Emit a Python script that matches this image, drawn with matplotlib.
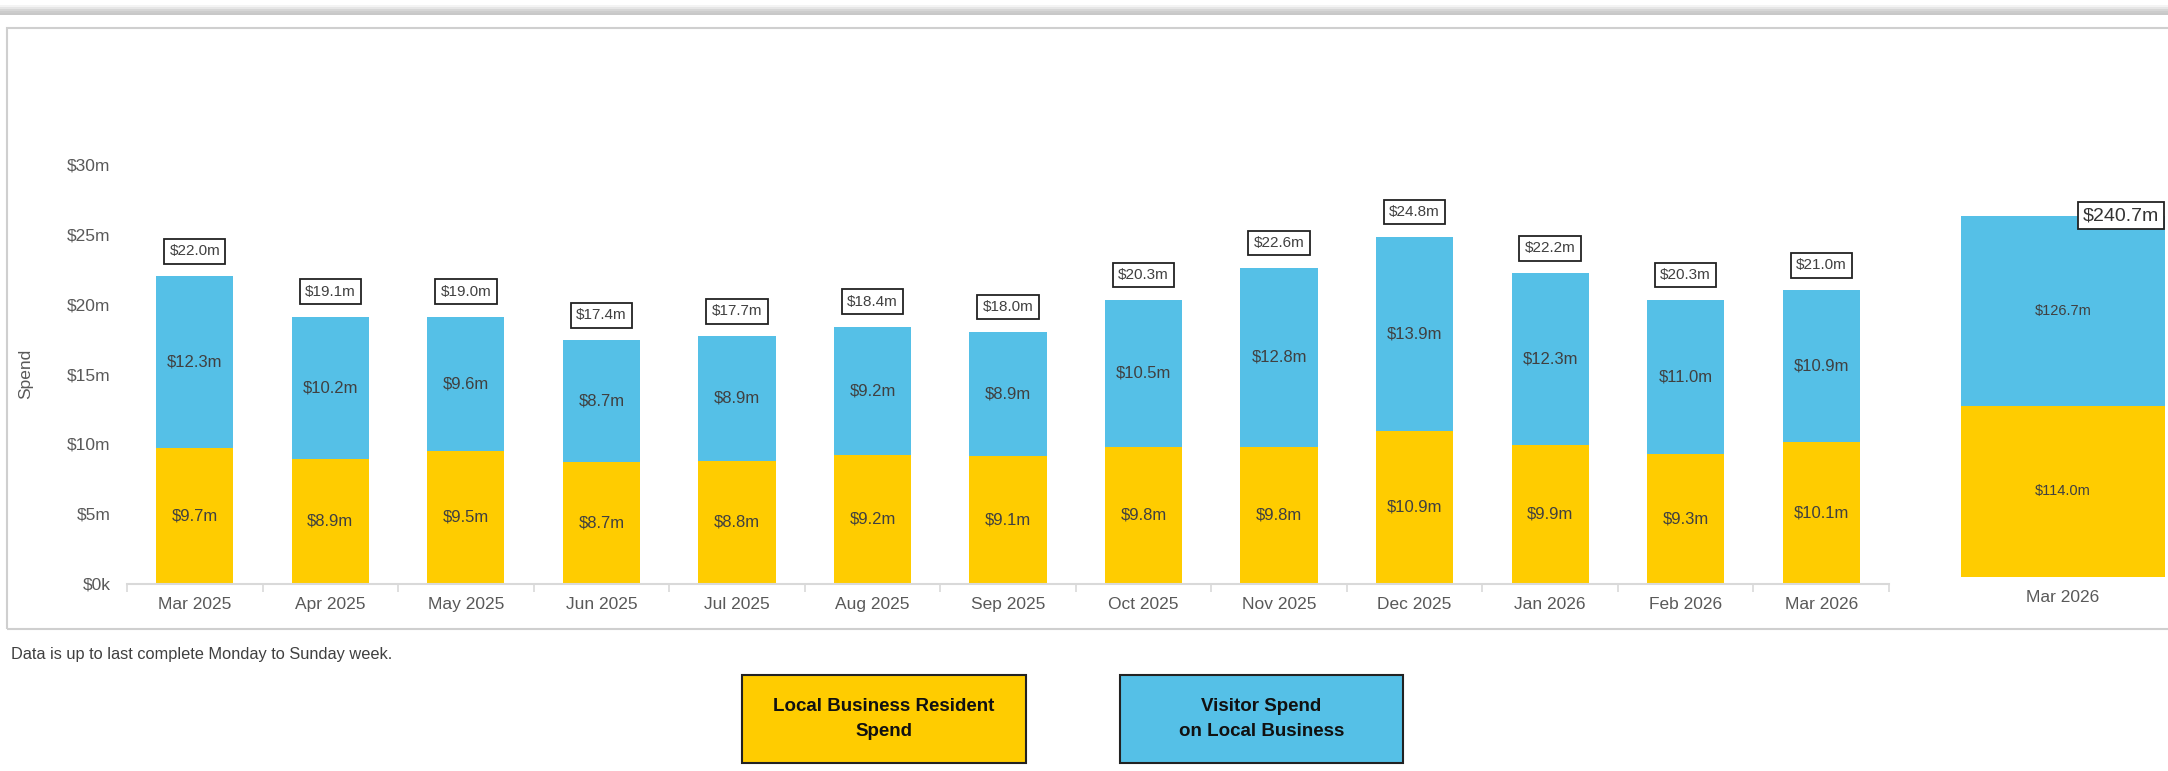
import matplotlib.pyplot as plt
import numpy as np
from matplotlib.patches import Rectangle

months = ["Mar 2025", "Apr 2025", "May 2025", "Jun 2025", "Jul 2025", "Aug 2025",
          "Sep 2025", "Oct 2025", "Nov 2025", "Dec 2025", "Jan 2026", "Feb 2026",
          "Mar 2026"]
resident = [9.7, 8.9, 9.5, 8.7, 8.8, 9.2, 9.1, 9.8, 9.8, 10.9, 9.9, 9.3, 10.1]
visitor = [12.3, 10.2, 9.6, 8.7, 8.9, 9.2, 8.9, 10.5, 12.8, 13.9, 12.3, 11.0, 10.9]
totals = [22.0, 19.1, 19.0, 17.4, 17.7, 18.4, 18.0, 20.3, 22.6, 24.8, 22.2, 20.3, 21.0]

ytd_label = "Mar 2026"
ytd_resident = 114.0
ytd_visitor = 126.7
ytd_total = 240.7

yticks = [0, 5, 10, 15, 20, 25, 30]
ytick_labels = ["$0k", "$5m", "$10m", "$15m", "$20m", "$25m", "$30m"]

YELLOW = "#FFCC00"
BLUE = "#55C0E7"
GREY_TXT = "#595959"
SEG_TXT = "#404040"

plt.rcParams["font.family"] = ["Liberation Sans", "DejaVu Sans"]

W, H = 2168, 771
fig = plt.figure(figsize=(W / 100, H / 100), dpi=100)

# top shadow band and frame
for i, c in enumerate(["#f4f4f4", "#e6e6e6", "#d6d6d6", "#cccccc", "#c8c8c8"]):
    fig.add_artist(Rectangle((0, 1 - (5 + 2 * i + 2) / H), 1, 2 / H,
                             transform=fig.transFigure, color=c, lw=0))
fig.add_artist(Rectangle((7 / W, 1 - 629 / H), 1.2, (629 - 28) / H,
                         transform=fig.transFigure, fill=False,
                         edgecolor="#cfcfcf", lw=1.5))

# main monthly chart
ax = fig.add_axes([127 / W, 1 - 583.5 / H, (1889 - 127) / W, (583.5 - 164.5) / H])
x = np.arange(len(months))
bw = 0.57
ax.bar(x, resident, bw, color=YELLOW, zorder=2)
ax.bar(x, visitor, bw, bottom=resident, color=BLUE, zorder=2)

for i in range(len(months)):
    ax.text(x[i], resident[i] / 2, f"${resident[i]:.1f}m", ha="center", va="center",
            fontsize=12, color=SEG_TXT)
    ax.text(x[i], resident[i] + visitor[i] / 2, f"${visitor[i]:.1f}m", ha="center",
            va="center", fontsize=12, color=SEG_TXT)
    ax.annotate(f"${totals[i]:.1f}m", xy=(x[i], resident[i] + visitor[i]),
                xytext=(0, 18), textcoords="offset points", ha="center", va="center",
                fontsize=11, color=SEG_TXT,
                bbox=dict(boxstyle="square,pad=0.35", fc="white", ec="#222222", lw=1.3))

ax.set_xlim(-0.5, len(months) - 0.5)
ax.set_ylim(0, 30)
ax.set_yticks(yticks)
ax.set_yticklabels(ytick_labels)
ax.set_xticks(x)
ax.set_xticklabels(months)
ax.set_xticks(np.arange(len(months) + 1) - 0.5, minor=True)
ax.tick_params(axis="x", which="major", length=0, pad=10, labelsize=12.5, labelcolor=GREY_TXT)
ax.tick_params(axis="x", which="minor", length=6, color="#d9d9d9", width=1.2)
ax.tick_params(axis="y", length=0, pad=12, labelsize=12.5, labelcolor=GREY_TXT)
for s in ["top", "right", "left"]:
    ax.spines[s].set_visible(False)
ax.spines["bottom"].set_color("#d9d9d9")
ax.spines["bottom"].set_linewidth(1.5)
ax.set_ylabel("Spend", fontsize=12.5, color=GREY_TXT)
ax.yaxis.set_label_coords(-0.053, 0.5)
ax.patch.set_alpha(0)

# year-to-date total
ax2 = fig.add_axes([1961 / W, 1 - 576.6 / H, (2165 - 1961) / W, 300 * 1.4994 / H])
ax2.bar([0], [ytd_resident], 1.0, color=YELLOW)
ax2.bar([0], [ytd_visitor], 1.0, bottom=[ytd_resident], color=BLUE)
ax2.text(0, ytd_resident / 2, f"${ytd_resident:.1f}m", ha="center", va="center",
         fontsize=10.5, color=SEG_TXT)
ax2.text(0, ytd_resident + ytd_visitor / 2, f"${ytd_visitor:.1f}m", ha="center",
         va="center", fontsize=10.5, color=SEG_TXT)
ax2.text(0.47, ytd_total, f"${ytd_total:.1f}m", ha="right", va="center",
         fontsize=14, color="#333333",
         bbox=dict(boxstyle="square,pad=0.25", fc="white", ec="#222222", lw=1.3))
ax2.set_xlim(-0.5, 0.5)
ax2.set_ylim(0, 300)
ax2.set_xticks([0])
ax2.set_xticklabels([ytd_label])
ax2.tick_params(axis="x", length=0, pad=10, labelsize=12.5, labelcolor=GREY_TXT)
ax2.set_yticks([])
for s in ax2.spines.values():
    s.set_visible(False)
ax2.patch.set_alpha(0)

# footnote
fig.text(11 / W, 1 - 654 / H, "Data is up to last complete Monday to Sunday week.",
         fontsize=11.8, color="#404040", va="center", ha="left")

# legend boxes
legend_items = [("Local Business Resident\nSpend", YELLOW, 742, 1026),
                ("Visitor Spend\non Local Business", BLUE, 1120, 1403)]
for label, col, x0, x1 in legend_items:
    fig.add_artist(Rectangle((x0 / W, 1 - 763 / H), (x1 - x0) / W, (763 - 675) / H,
                             transform=fig.transFigure, facecolor=col,
                             edgecolor="#222222", lw=1.5))
    fig.text((x0 + x1) / 2 / W, 1 - 719 / H, label, ha="center", va="center",
             fontsize=13.5, fontweight="bold", color="#111111", linespacing=1.55)

fig.savefig("out.png", dpi=100)
